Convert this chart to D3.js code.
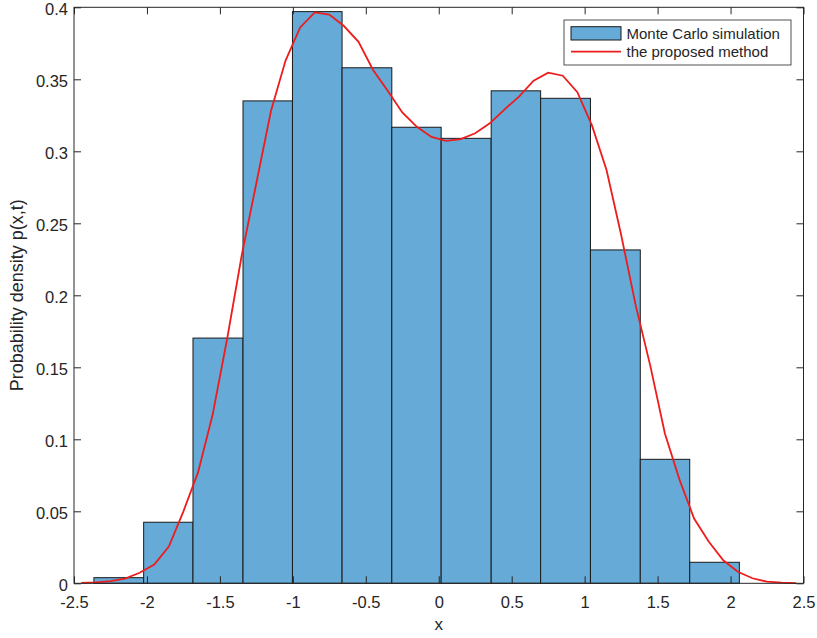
<!DOCTYPE html>
<html>
<head>
<meta charset="utf-8">
<script src="https://cdn.jsdelivr.net/npm/d3@7"></script>
<style>
  body { margin: 0; background: #fff; }
  svg text { font-family: "Liberation Sans", Arial, Helvetica, sans-serif; fill: #262626; }
</style>
</head>
<body>
<div id="chart"></div>
<script>
// histogram bins (edges) and their densities
var binEdges = [-2.3635, -2.0226, -1.6845, -1.3416, -1.0027, -0.6626, -0.3217,
                0.0165, 0.3594, 0.6982, 1.0398, 1.3813, 1.7202, 2.0603];
var binDensity = [0.0039, 0.0424, 0.1703, 0.335, 0.397, 0.358, 0.3167,
                  0.309, 0.342, 0.3368, 0.2315, 0.0861, 0.0146];

// proposed method curve
var curveX = [-2.45, -2.35, -2.25, -2.15, -2.05, -1.95, -1.85, -1.75, -1.65, -1.55,
              -1.45, -1.35, -1.25, -1.15, -1.05, -0.95, -0.85, -0.75, -0.65, -0.55,
              -0.45, -0.35, -0.25, -0.15, -0.05, 0.05, 0.15, 0.25, 0.35, 0.45,
              0.55, 0.65, 0.75, 0.85, 0.95, 1.05, 1.15, 1.25, 1.35, 1.45,
              1.55, 1.65, 1.75, 1.85, 1.95, 2.05, 2.15, 2.25, 2.35, 2.45];
var curveY = [0.0003, 0.0007, 0.0015, 0.0033, 0.0073, 0.013, 0.0255, 0.05, 0.077, 0.117,
              0.17, 0.228, 0.278, 0.328, 0.363, 0.386, 0.3965, 0.395, 0.387, 0.376,
              0.3565, 0.342, 0.327, 0.317, 0.310, 0.3072, 0.3085, 0.3125, 0.3194, 0.329,
              0.338, 0.349, 0.3546, 0.3525, 0.341, 0.318, 0.287, 0.242, 0.193, 0.151,
              0.104, 0.072, 0.045, 0.029, 0.016, 0.008, 0.0035, 0.0011, 0.0004, 0.0001];

var xTicks = [-2.5, -2, -1.5, -1, -0.5, 0, 0.5, 1, 1.5, 2, 2.5];
var xTickLabels = ["-2.5", "-2", "-1.5", "-1", "-0.5", "0", "0.5", "1", "1.5", "2", "2.5"];
var yTicks = [0, 0.05, 0.1, 0.15, 0.2, 0.25, 0.3, 0.35, 0.4];
var yTickLabels = ["0", "0.05", "0.1", "0.15", "0.2", "0.25", "0.3", "0.35", "0.4"];

var legendNames = ["Monte Carlo simulation", "the proposed method"];

var W = 817, H = 638;
var margin = {top: 7.3, right: 13.5, bottom: 54.7, left: 74};
var width = W - margin.left - margin.right,
    height = H - margin.top - margin.bottom;

var svg = d3.select("#chart")
  .append("svg")
    .attr("width", W)
    .attr("height", H)
  .append("g")
    .attr("transform", "translate(" + margin.left + "," + margin.top + ")");

var x = d3.scaleLinear().domain([-2.5, 2.5]).range([0, width]);
var y = d3.scaleLinear().domain([0, 0.4]).range([height, 0]);

var barColor = "#66aad7";

// bars
var bins = binDensity.map(function(d, i) {
  return {x0: binEdges[i], x1: binEdges[i + 1], v: d};
});
svg.selectAll("rect.bar")
  .data(bins)
  .enter()
  .append("rect")
    .attr("class", "bar")
    .attr("x", function(d) { return x(d.x0); })
    .attr("width", function(d) { return x(d.x1) - x(d.x0); })
    .attr("y", function(d) { return y(d.v); })
    .attr("height", function(d) { return y(0) - y(d.v); })
    .attr("fill", barColor)
    .attr("stroke", "#1a1a1a")
    .attr("stroke-width", 1);

// red curve
var pts = curveX.map(function(v, i) { return [v, curveY[i]]; });
svg.append("path")
  .datum(pts)
  .attr("fill", "none")
  .attr("stroke", "#ee1c1c")
  .attr("stroke-width", 1.8)
  .attr("d", d3.line()
    .x(function(d) { return x(d[0]); })
    .y(function(d) { return y(d[1]); }));

// axes, ticks pointing inward on all four sides
var tickCol = "#262626";
function styleAxis(g) {
  g.select(".domain").remove();
  g.selectAll(".tick line").attr("stroke", tickCol);
  g.selectAll(".tick text").style("font-size", "16.5px").attr("fill", tickCol);
}

svg.append("g")
  .attr("transform", "translate(0," + height + ")")
  .call(d3.axisBottom(x).tickValues(xTicks).tickSize(-7).tickPadding(13)
    .tickFormat(function(d, i) { return xTickLabels[i]; }))
  .call(styleAxis);

svg.append("g")
  .call(d3.axisTop(x).tickValues(xTicks).tickSize(-7).tickFormat(""))
  .call(styleAxis);

svg.append("g")
  .call(d3.axisLeft(y).tickValues(yTicks).tickSize(-7).tickPadding(6)
    .tickFormat(function(d, i) { return yTickLabels[i]; }))
  .call(styleAxis)
  .selectAll(".tick text").attr("dy", "0.42em");

svg.append("g")
  .attr("transform", "translate(" + width + ",0)")
  .call(d3.axisRight(y).tickValues(yTicks).tickSize(-7).tickFormat(""))
  .call(styleAxis);

// axes box
svg.append("rect")
  .attr("x", 0).attr("y", 0)
  .attr("width", width).attr("height", height)
  .attr("fill", "none")
  .attr("stroke", tickCol)
  .attr("stroke-width", 1);

// axis labels
svg.append("text")
  .attr("x", x(0))
  .attr("y", height + 47)
  .attr("text-anchor", "middle")
  .style("font-size", "17px")
  .text("x");

svg.append("text")
  .attr("transform", "translate(" + (-51) + "," + (height / 2) + ") rotate(-90)")
  .attr("text-anchor", "middle")
  .style("font-size", "18px")
  .text("Probability density p(x,t)");

// legend
var lg = svg.append("g")
  .attr("transform", "translate(" + (564 - margin.left) + "," + (20 - margin.top) + ")");
lg.append("rect")
  .attr("width", 227).attr("height", 45)
  .attr("fill", "#fff")
  .attr("stroke", tickCol)
  .attr("stroke-width", 0.8);
lg.append("rect")
  .attr("x", 7).attr("y", 6.7)
  .attr("width", 50).attr("height", 13.3)
  .attr("fill", barColor)
  .attr("stroke", "#1a1a1a")
  .attr("stroke-width", 1);
lg.append("line")
  .attr("x1", 7).attr("x2", 57)
  .attr("y1", 31.7).attr("y2", 31.7)
  .attr("stroke", "#ee1c1c")
  .attr("stroke-width", 1.8);
lg.selectAll("text.leg")
  .data(legendNames)
  .enter()
  .append("text")
    .attr("class", "leg")
    .attr("x", 62.5)
    .attr("y", function(d, i) { return 13.5 + i * 18.5; })
    .attr("dy", "0.35em")
    .style("font-size", "15px")
    .text(function(d) { return d; });
</script>
</body>
</html>
